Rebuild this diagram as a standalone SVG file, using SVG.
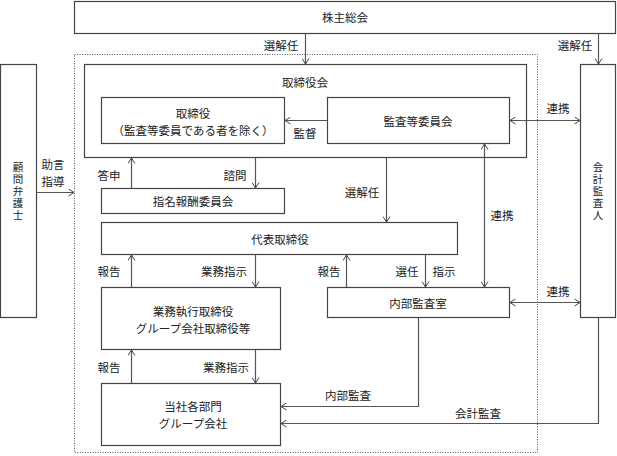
<svg xmlns="http://www.w3.org/2000/svg" width="617" height="456" viewBox="0 0 617 456">
<style>
.b{fill:#fff;stroke:#444;stroke-width:1.2}
.c{fill:none;stroke:#555;stroke-width:1.2}
.t{font-family:"Noto Sans CJK JP","Noto Sans",sans-serif;font-size:11.5px;fill:#222;text-anchor:middle;dominant-baseline:central}
.v{font-family:"Noto Sans CJK JP","Noto Sans",sans-serif;font-size:10.5px;fill:#222;text-anchor:middle;writing-mode:vertical-rl;letter-spacing:1.5px}
.d{fill:none;stroke:#555;stroke-width:1;stroke-dasharray:1 1.5}
</style>
<defs>
<marker id="a" viewBox="0 0 6 8" refX="6" refY="4" markerWidth="6" markerHeight="8" markerUnits="userSpaceOnUse" orient="auto-start-reverse">
<path d="M0.5,0.5 L6,4 L0.5,7.5" fill="none" stroke="#444" stroke-width="1"/>
</marker>
</defs>
<rect width="617" height="456" fill="#fff"/>
<rect id="group-frame" class="d" x="74.5" y="54.5" width="463" height="398"/>

<g id="shareholders"><rect class="b" x="74.5" y="1.5" width="541" height="32"/><text class="t" x="345" y="17">株主総会</text></g>
<g id="board"><rect class="b" x="84.5" y="64.5" width="442" height="93"/><text class="t" x="305" y="82">取締役会</text></g>
<g id="directors"><rect class="b" x="101.5" y="97.5" width="183" height="46"/><text class="t" x="193" y="113">取締役<tspan x="193" dy="17">（監査等委員である者を除く）</tspan></text></g>
<g id="audit-committee"><rect class="b" x="327.5" y="97.5" width="182" height="46"/><text class="t" x="418" y="121">監査等委員会</text></g>
<g id="lawyer"><rect class="b" x="0.5" y="64.5" width="36" height="253"/><text class="v" x="18" y="192">顧問弁護士</text></g>
<g id="auditor"><rect class="b" x="580.5" y="64.5" width="35" height="253"/><text class="v" x="598" y="192">会計監査人</text></g>
<g id="nomination"><rect class="b" x="101.5" y="188.5" width="183" height="25"/><text class="t" x="193" y="201">指名報酬委員会</text></g>
<g id="ceo"><rect class="b" x="101.5" y="222.5" width="356" height="32"/><text class="t" x="280" y="239">代表取締役</text></g>
<g id="internal-audit"><rect class="b" x="327.5" y="287.5" width="182" height="30"/><text class="t" x="418" y="303">内部監査室</text></g>
<g id="executives"><rect class="b" x="101.5" y="287.5" width="179" height="62"/><text class="t" x="193" y="311">業務執行取締役<tspan x="193" dy="17">グループ会社取締役等</tspan></text></g>
<g id="departments"><rect class="b" x="101.5" y="383.5" width="179" height="62"/><text class="t" x="193" y="406">当社各部門<tspan x="193" dy="17">グループ会社</tspan></text></g>

<g id="connectors">
<path class="c" d="M305.5,33.5 V64" marker-end="url(#a)"/>
<path class="c" d="M598.5,33.5 V64" marker-end="url(#a)"/>
<path class="c" d="M327.5,120.5 H285" marker-end="url(#a)"/>
<path class="c" d="M510,120.5 H580" marker-start="url(#a)" marker-end="url(#a)"/>
<path class="c" d="M36.5,192.5 H74" marker-end="url(#a)"/>
<path class="c" d="M131.5,188.5 V158" marker-end="url(#a)"/>
<path class="c" d="M255.5,157.5 V188" marker-end="url(#a)"/>
<path class="c" d="M386.5,157.5 V222" marker-end="url(#a)"/>
<path class="c" d="M484.5,144 V287" marker-start="url(#a)" marker-end="url(#a)"/>
<path class="c" d="M131.5,287.5 V255" marker-end="url(#a)"/>
<path class="c" d="M255.5,254.5 V287" marker-end="url(#a)"/>
<path class="c" d="M346.5,287.5 V255" marker-end="url(#a)"/>
<path class="c" d="M425.5,254.5 V287" marker-end="url(#a)"/>
<path class="c" d="M510,302.5 H580" marker-start="url(#a)" marker-end="url(#a)"/>
<path class="c" d="M131.5,383.5 V350" marker-end="url(#a)"/>
<path class="c" d="M255.5,349.5 V383" marker-end="url(#a)"/>
<path class="c" d="M418.5,317.5 V406.5 H281" marker-end="url(#a)"/>
<path class="c" d="M598.5,317.5 V423.5 H281" marker-end="url(#a)"/>
<text class="t" x="281" y="45">選解任</text>
<text class="t" x="575" y="45">選解任</text>
<text class="t" x="305" y="133">監督</text>
<text class="t" x="558" y="108">連携</text>
<text class="t" x="53" y="164">助言<tspan x="53" dy="17">指導</tspan></text>
<text class="t" x="109" y="175">答申</text>
<text class="t" x="235" y="175">諮問</text>
<text class="t" x="362" y="192">選解任</text>
<text class="t" x="502" y="215">連携</text>
<text class="t" x="109" y="271">報告</text>
<text class="t" x="224" y="271">業務指示</text>
<text class="t" x="329" y="271">報告</text>
<text class="t" x="407" y="271">選任</text>
<text class="t" x="444" y="271">指示</text>
<text class="t" x="558" y="291">連携</text>
<text class="t" x="109" y="367">報告</text>
<text class="t" x="226" y="367">業務指示</text>
<text class="t" x="348" y="395">内部監査</text>
<text class="t" x="478" y="413">会計監査</text>
</g>
</svg>
